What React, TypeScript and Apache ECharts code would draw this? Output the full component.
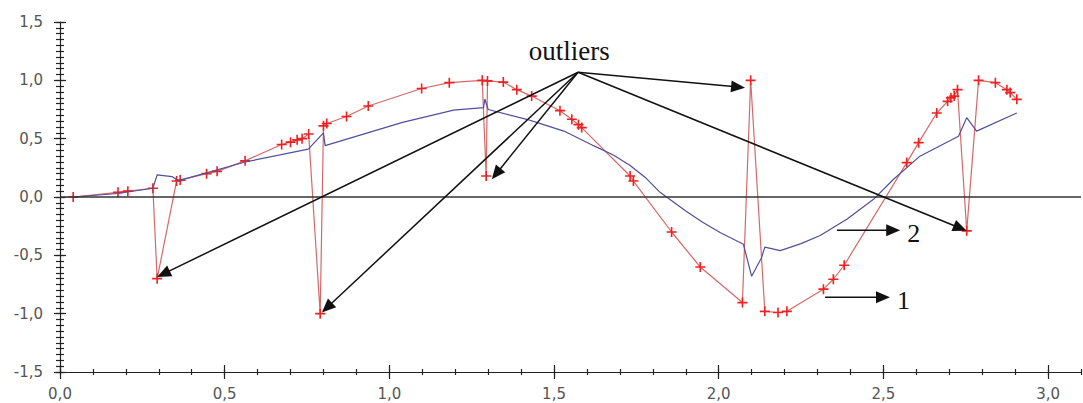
import React, { useEffect, useRef } from 'react';
import * as echarts from 'echarts';

// ---------- data ----------
const xTickValues = [0, 0.5, 1, 1.5, 2, 2.5, 3];
const yTickValues = [-1.5, -1, -0.5, 0, 0.5, 1, 1.5];

// curve 1 (red, with outliers)
const series1: [number, number][] = [
  [0.04, 0.0], [0.176, 0.04], [0.206, 0.05], [0.282, 0.075],
  [0.295, -0.7],
  [0.354, 0.137], [0.365, 0.145], [0.445, 0.2], [0.477, 0.22], [0.562, 0.31],
  [0.673, 0.45], [0.7, 0.47], [0.72, 0.49], [0.735, 0.5], [0.755, 0.54],
  [0.79, -1.0],
  [0.8, 0.61], [0.81, 0.63], [0.87, 0.69], [0.936, 0.78], [1.098, 0.93],
  [1.182, 0.98], [1.282, 1.0],
  [1.294, 0.18],
  [1.298, 0.995], [1.346, 0.985], [1.387, 0.92], [1.432, 0.865], [1.518, 0.74],
  [1.554, 0.666], [1.574, 0.62], [1.584, 0.595], [1.731, 0.18], [1.741, 0.137],
  [1.857, -0.3], [1.944, -0.6], [2.072, -0.905],
  [2.097, 1.0],
  [2.14, -0.98], [2.18, -0.99], [2.207, -0.98], [2.318, -0.79], [2.348, -0.705],
  [2.381, -0.585], [2.571, 0.295], [2.607, 0.466], [2.662, 0.72], [2.695, 0.82],
  [2.705, 0.85], [2.715, 0.865], [2.725, 0.92],
  [2.753, -0.29],
  [2.789, 1.0], [2.84, 0.98], [2.875, 0.92], [2.885, 0.895], [2.905, 0.837],
];

// curve 2 (blue)
const series2: [number, number][] = [
  [0.04, 0.0], [0.176, 0.03], [0.282, 0.075], [0.295, 0.19], [0.34, 0.175],
  [0.36, 0.14], [0.562, 0.3], [0.754, 0.41], [0.8, 0.55], [0.805, 0.44],
  [1.04, 0.64], [1.195, 0.745], [1.286, 0.766], [1.29, 0.84], [1.3, 0.75],
  [1.417, 0.666], [1.447, 0.64], [1.53, 0.565], [1.62, 0.44], [1.68, 0.36],
  [1.731, 0.27], [1.78, 0.16], [1.822, 0.04], [1.9, -0.12], [1.95, -0.215],
  [2.004, -0.305], [2.075, -0.405], [2.1, -0.68], [2.13, -0.52], [2.14, -0.43],
  [2.187, -0.46], [2.25, -0.4], [2.308, -0.33], [2.389, -0.19], [2.47, -0.02],
  [2.53, 0.15], [2.611, 0.35], [2.728, 0.52], [2.753, 0.68], [2.783, 0.565],
  [2.905, 0.72],
];

// annotations (data coordinates)
const calloutText = 'outliers';
const calloutTextPos: [number, number] = [1.546, 1.248];
const calloutOrigin: [number, number] = [1.573, 1.069];
const calloutTips: [number, number][] = [
  [0.295, -0.685], [0.795, -0.99], [1.311, 0.152], [2.08, 0.937], [2.753, -0.29],
];
const legendArrows: { label: string; from: [number, number]; to: [number, number] }[] = [
  { label: '2', from: [2.359, -0.286], to: [2.551, -0.286] },
  { label: '1', from: [2.323, -0.86], to: [2.52, -0.86] },
];

// ---------- helpers ----------
const fmt = (v: number) => v.toFixed(1).replace('.', ',');
const axisColor = '#222';
const labelStyle = { color: '#555', fontSize: 15, fontFamily: 'DejaVu Sans' };
const plusSymbol = 'path://M4.2,0H5.8V4.2H10V5.8H5.8V10H4.2V5.8H0V4.2H4.2Z';

function makeX(interval: number, inside: boolean, len: number, main: boolean, custom?: number[]) {
  return {
    type: 'value', min: 0, max: 3.1, interval, position: 'bottom',
    splitLine: { show: false },
    axisLine: { show: main, onZero: false, lineStyle: { color: axisColor, width: 1.2 } },
    axisTick: { show: true, inside, length: len, lineStyle: { color: axisColor, width: 1.2 }, ...(custom ? { customValues: custom } : {}) },
    axisLabel: main ? { show: true, margin: 14, formatter: fmt, customValues: custom, ...labelStyle } : { show: false },
  };
}
function makeY(interval: number, inside: boolean, len: number, main: boolean, custom?: number[]) {
  return {
    type: 'value', min: -1.5, max: 1.5, interval, position: 'left',
    splitLine: { show: false },
    axisLine: { show: main, onZero: false, lineStyle: { color: axisColor, width: 1.2 } },
    axisTick: { show: true, inside, length: len, lineStyle: { color: axisColor, width: 1.2 }, ...(custom ? { customValues: custom } : {}) },
    axisLabel: main ? { show: true, margin: 17, formatter: fmt, customValues: custom, ...labelStyle } : { show: false },
  };
}

export default function App() {
  const ref = useRef<HTMLDivElement>(null);
  useEffect(() => {
    document.body.style.margin = '0';
    if (!ref.current) return;
    const chart = echarts.init(ref.current, undefined, { renderer: 'svg' });
    chart.setOption({
      animation: false,
      backgroundColor: '#fff',
      grid: { left: 60, right: 2, top: 22, bottom: 31, containLabel: false },
      xAxis: [
        makeX(0.5, false, 7, true, xTickValues),
        makeX(0.5, true, 7, false, xTickValues),
        makeX(0.1, false, 3, false),
        makeX(0.1, true, 3, false),
      ],
      yAxis: [
        makeY(0.5, false, 6, true, yTickValues),
        makeY(0.5, true, 6, false, yTickValues),
        makeY(0.05, false, 4, false),
        makeY(0.05, true, 4, false),
      ],
      series: [
        {
          type: 'line', name: '1', data: series1, xAxisIndex: 0, yAxisIndex: 0,
          symbol: plusSymbol, symbolSize: 10,
          lineStyle: { color: '#d66868', width: 1.2 },
          itemStyle: { color: '#ee2020' },
          z: 2,
        },
        {
          type: 'line', name: '2', data: series2, xAxisIndex: 0, yAxisIndex: 0,
          symbol: 'none',
          lineStyle: { color: '#4f4f9c', width: 1.2 },
          z: 3,
          markLine: {
            silent: true, symbol: ['none', 'none'], label: { show: false },
            lineStyle: { color: '#333', width: 1.5, type: 'solid' },
            data: [{ yAxis: 0 }],
          },
        },
      ],
    });

    const px = (p: [number, number]) =>
      chart.convertToPixel({ xAxisIndex: 0, yAxisIndex: 0 }, p) as number[];

    const elements: any[] = [];
    const addArrow = (from: number[], to: number[], headLen = 14, headW = 6) => {
      const dx = to[0] - from[0];
      const dy = to[1] - from[1];
      const len = Math.hypot(dx, dy) || 1;
      const ux = dx / len, uy = dy / len;
      const nx = -uy, ny = ux;
      const bx = to[0] - ux * headLen, by = to[1] - uy * headLen;
      elements.push({
        type: 'line', z: 100,
        shape: { x1: from[0], y1: from[1], x2: bx + ux * 2, y2: by + uy * 2 },
        style: { stroke: '#111', lineWidth: 1.5 },
      });
      elements.push({
        type: 'polygon', z: 100,
        shape: { points: [[to[0], to[1]], [bx + nx * headW, by + ny * headW], [bx - nx * headW, by - ny * headW]] },
        style: { fill: '#111' },
      });
    };

    const o = px(calloutOrigin);
    calloutTips.forEach((t) => addArrow(o, px(t)));
    const tp = px(calloutTextPos);
    elements.push({
      type: 'text', z: 100, x: tp[0], y: tp[1],
      style: {
        text: calloutText, font: '27px "Liberation Serif"', fill: '#111',
        align: 'center', verticalAlign: 'middle', textAlign: 'center', textVerticalAlign: 'middle',
      },
    });
    legendArrows.forEach((a) => {
      const f = px(a.from), t = px(a.to);
      addArrow(f, t, 14, 6);
      elements.push({
        type: 'text', z: 100, x: t[0] + 7, y: t[1] + 3,
        style: {
          text: a.label, font: '26px "Liberation Serif"', fill: '#111',
          align: 'left', verticalAlign: 'middle', textAlign: 'left', textVerticalAlign: 'middle',
        },
      });
    });
    chart.setOption({ graphic: { elements } });

    return () => chart.dispose();
  }, []);
  return <div ref={ref} style={{ width: 1083, height: 403 }} />;
}
